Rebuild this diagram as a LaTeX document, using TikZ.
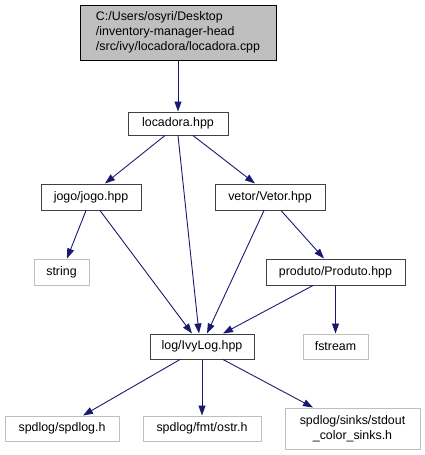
\documentclass[tikz,border=0pt]{standalone}
\usepackage{fontspec}
\setmainfont{Liberation Sans}
\usetikzlibrary{arrows.meta}

\definecolor{edgeblue}{HTML}{191970}
\definecolor{sysgray}{HTML}{BFBFBF}
\definecolor{rootgray}{HTML}{BFBFBF}

\tikzset{
    filebox/.style={draw=black!75, line width=1pt, inner sep=2pt, font=\fontsize{12.4}{15}\selectfont},
    sysbox/.style={draw=sysgray, line width=1pt, inner sep=2pt, font=\fontsize{12.4}{15}\selectfont},
    dep/.style={draw=edgeblue, line width=0.9pt, -{Triangle[length=10pt,width=7pt]}}
}

\begin{document}
\begin{tikzpicture}[x=1pt,y=-1pt]
    \useasboundingbox (0,0) rectangle (425,455);

    % Source file at the top
    \node[filebox, fill=rootgray, draw=black, align=left, minimum width=196pt, minimum height=55pt] (root) at (178,32.5)
        {C:/Users/osyri/Desktop\\/inventory-manager-head\\/src/ivy/locadora/locadora.cpp};

    % Project headers
    \node[filebox, minimum width=100pt, minimum height=23pt] (locadora) at (178,123.5) {locadora.hpp};
    \node[filebox, minimum width=100pt, minimum height=26pt] (jogo) at (91,197) {jogo/jogo.hpp};
    \node[filebox, minimum width=110pt, minimum height=26pt] (vetor) at (270,197) {vetor/Vetor.hpp};
    \node[filebox, minimum width=139pt, minimum height=26pt] (produto) at (335.5,272) {produto/Produto.hpp};
    \node[filebox, minimum width=104pt, minimum height=25pt] (ivylog) at (202,346.5) {log/IvyLog.hpp};

    % System headers
    \node[sysbox, minimum width=55pt, minimum height=26pt] (string) at (61.5,272) {string};
    \node[sysbox, minimum width=65pt, minimum height=25pt] (fstream) at (335.5,346.5) {fstream};
    \node[sysbox, minimum width=114pt, minimum height=25pt] (spdlog) at (62,428.5) {spdlog/spdlog.h};
    \node[sysbox, minimum width=118pt, minimum height=25pt] (ostr) at (202,428.5) {spdlog/fmt/ostr.h};
    \node[sysbox, align=center, minimum width=135pt, minimum height=41pt] (sinks) at (352.5,428.5)
        {spdlog/sinks/stdout\\\_color\_sinks.h};

    % Include edges
    \draw[dep] (root.south) -- (locadora.north);
    \draw[dep] ([xshift=-13pt]locadora.south) -- ([xshift=14pt]jogo.north);
    \draw[dep] (locadora.south) -- ([xshift=-3pt]ivylog.north);
    \draw[dep] ([xshift=15pt]locadora.south) -- ([xshift=-15pt]vetor.north);
    \draw[dep] ([xshift=-5pt]jogo.south) -- ([xshift=5.5pt]string.north);
    \draw[dep] ([xshift=9pt]jogo.south) -- ([xshift=-10pt]ivylog.north);
    \draw[dep] ([xshift=-6pt]vetor.south) -- ([xshift=5pt]ivylog.north);
    \draw[dep] ([xshift=11pt]vetor.south) -- ([xshift=-11.5pt]produto.north);
    \draw[dep] ([xshift=-22.5pt]produto.south) -- ([xshift=21pt]ivylog.north);
    \draw[dep] (produto.south) -- (fstream.north);
    \draw[dep] ([xshift=-22pt]ivylog.south) -- ([xshift=21pt]spdlog.north);
    \draw[dep] (ivylog.south) -- (ostr.north);
    \draw[dep] ([xshift=21pt]ivylog.south) -- ([xshift=-39.5pt]sinks.north);

\end{tikzpicture}
\end{document}
